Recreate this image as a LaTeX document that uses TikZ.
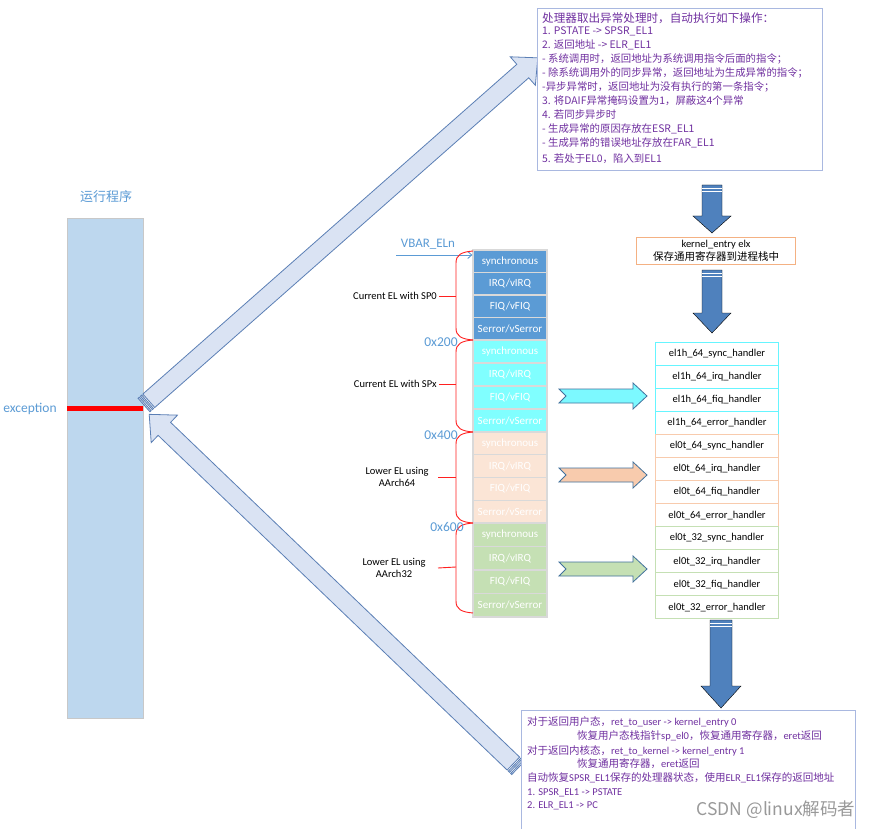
\documentclass[tikz,border=0pt]{standalone}
\usepackage{fontspec}
\setmainfont{Carlito}
\newfontfamily\zhfont{Noto Sans CJK SC}
\newfontfamily\wmfont{Noto Sans CJK SC}
\newcommand\zh[1]{{\zhfont #1}}
\newcommand\rowtext[1]{\ifcase#1 synchronous\or IRQ/vIRQ\or FIQ/vFIQ\or Serror/vSerror\fi}
\usetikzlibrary{arrows.meta}

\definecolor{progfill}{HTML}{BDD7EE}
\definecolor{progedge}{HTML}{C8C8C8}
\definecolor{labelblue}{HTML}{5B9BD5}
\definecolor{vecblue}{HTML}{5B9BD5}
\definecolor{veccyan}{HTML}{80FFFF}
\definecolor{vecpeach}{HTML}{FBE5D6}
\definecolor{vecgreen}{HTML}{C5E0B4}
\definecolor{cellline}{HTML}{D9D9D9}
\definecolor{hcyan}{HTML}{66F5FF}
\definecolor{hpeach}{HTML}{F8CBAD}
\definecolor{hgreen}{HTML}{C5E0B4}
\definecolor{arrcyan}{HTML}{7CF9FF}
\definecolor{arrpeach}{HTML}{F8CBAD}
\definecolor{arrgreen}{HTML}{C5E0B4}
\definecolor{arredge}{HTML}{41719C}
\definecolor{downblue}{HTML}{4F81BD}
\definecolor{bigfill}{HTML}{DAE3F3}
\definecolor{bigedge}{HTML}{5B7FB5}
\definecolor{notepurple}{HTML}{7030A0}
\definecolor{noteedge}{HTML}{A9B8E0}
\definecolor{kernedge}{HTML}{F4B183}
\definecolor{braced}{HTML}{FF2020}

\begin{document}
\begin{tikzpicture}[x=1pt,y=-1pt,
  txt/.style={font=\fontsize{10.5}{13}\selectfont, inner sep=0pt},
  notetxt/.style={txt, text=notepurple, anchor=base west},
  entrytxt/.style={notetxt, font=\zhfont\fontsize{10.4}{13}\selectfont},
  cell/.style={draw=cellline, line width=1.2pt, minimum width=74pt, inner sep=0pt,
    text=white, font=\fontsize{11}{13}\selectfont},
  handler/.style={draw, line width=0.9pt, fill=white, minimum width=123pt,
    minimum height=23pt, inner sep=0pt, font=\fontsize{10.5}{12}\selectfont},
  bracered/.style={draw=braced, line width=0.9pt},
  offset/.style={text=labelblue, font=\fontsize{13.5}{15}\selectfont, inner sep=0pt},
  sidelabel/.style={font=\fontsize{10.5}{12.5}\selectfont, inner sep=2pt, align=center},
  bigarrow/.style={draw=bigedge, fill=bigfill, line width=0.8pt, line join=miter},
  midarrow/.style={draw=arredge, line width=0.8pt, line join=miter},
  downarrow/.style={fill=downblue},
  notebox/.style={draw=noteedge, line width=0.9pt, fill=white, inner sep=0pt, anchor=north west}
]
\useasboundingbox (0,0) rectangle (878,829);
\fill[white] (0,0) rectangle (878,829);

% ---------- running program ----------
\node[draw=progedge, fill=progfill, line width=0.8pt, minimum width=76pt, minimum height=500pt,
      inner sep=0pt, anchor=north west] (prog) at (67,218) {};
\node[text=labelblue, font=\zhfont\fontsize{13}{15}\selectfont, inner sep=0pt] (progtitle) at (106,197) {运行程序};
\draw[red, line width=5pt] (67,408) -- (143,408);
\node[text=labelblue, font=\fontsize{13.5}{15}\selectfont, inner sep=0pt] (exc) at (30,409) {exception};

% ---------- big arrows: into and out of the exception ----------
\begin{scope}[shift={(144,405)}, rotate=41.4]
  \draw[bigarrow] (0,-9) rectangle (1.6,9);
  \draw[bigarrow] (3.2,-9) rectangle (4.8,9);
  \draw[bigarrow] (6.4,-9) -- (505,-9) -- (505,-19) -- (525,0) -- (505,19) -- (505,9) -- (6.4,9) -- cycle;
\end{scope}
\begin{scope}[shift={(518,768)}, rotate=136.2]
  \draw[bigarrow] (0,-9) rectangle (1.6,9);
  \draw[bigarrow] (3.2,-9) rectangle (4.8,9);
  \draw[bigarrow] (6.4,-9) -- (490,-9) -- (490,-19) -- (511,0) -- (490,19) -- (490,9) -- (6.4,9) -- cycle;
\end{scope}

% ---------- note: what the CPU does on entry ----------
\node[notebox, minimum width=285pt, minimum height=162pt] (entrynote) at (537,8) {};
\node[entrytxt, font=\zhfont\fontsize{11.6}{13}\selectfont] (entryline0) at (542,22.5) {处理器取出异常处理时，自动执行如下操作：};
\foreach \y/\t [count=\k] in {
  31/{1. PSTATE -> SPSR\_EL1},
  45/{2. 返回地址 -> ELR\_EL1},
  59/{- 系统调用时，返回地址为系统调用指令后面的指令；},
  73/{- 除系统调用外的同步异常，返回地址为生成异常的指令；},
  87/{-异步异常时，返回地址为没有执行的第一条指令；},
  101/{3. 将DAIF异常掩码设置为1，屏蔽这4个异常},
  115/{4. 若同步异步时},
  129/{- 生成异常的原因存放在ESR\_EL1},
  143/{- 生成异常的错误地址存放在FAR\_EL1},
  159/{5. 若处于EL0，陷入到EL1}}
  \node[entrytxt] (entryline\k) at (542,\y+4) {\t};

% ---------- down arrows ----------
\draw[downarrow] (702,185) -- (722,185) -- (722,216) -- (731,216) -- (712,233) -- (693,216) -- (702,216) -- cycle;
\draw[white, line width=0.7pt] (702,188) -- (722,188) (702,191) -- (722,191);
\draw[downarrow] (702,270) -- (722,270) -- (722,313) -- (731,313) -- (712,333) -- (693,313) -- (702,313) -- cycle;
\draw[white, line width=0.7pt] (702,273) -- (722,273) (702,276) -- (722,276);
\draw[downarrow] (710,620) -- (732,620) -- (732,686) -- (741,686) -- (721,708) -- (701,686) -- (710,686) -- cycle;
\draw[white, line width=0.7pt] (710,623) -- (732,623) (710,626) -- (732,626);

% ---------- kernel_entry box ----------
\node[draw=kernedge, line width=0.9pt, minimum width=159pt, minimum height=27pt, inner sep=0pt,
      anchor=north west] (kentry) at (636,237) {};
\node[txt] (kentry1) at (716,245) {kernel\_entry elx};
\node[txt] (kentry2) at (716,257) {\zh{保存通用寄存器到进程栈中}};

% ---------- vector table ----------
\node[text=labelblue, font=\fontsize{13}{15}\selectfont, inner sep=0pt] (vbar) at (428,244) {VBAR\_ELn};
\foreach \b/\top/\h/\col in {1/250/22.5/vecblue, 2/340/23/veccyan, 3/432/22.75/vecpeach, 4/523/23.5/vecgreen}{
  \foreach \r in {0,...,3}{
    \pgfmathsetmacro\yc{\top+\h*(\r+0.5)}
    \node[cell, fill=\col, minimum height=\h pt] (v\b\r) at (510,\yc) {\rowtext{\r}};
  }
}
\draw[labelblue, line width=0.9pt, -{Straight Barb[length=4pt,width=7pt]}] (396,255) -- (v10.west |- 0,255);

% braces grouping the four vector blocks
\foreach \b/\T/\B/\M in {1/251/340/296, 2/340/432/384, 3/432/523/477, 4/523/613/567}{
  \draw[bracered] (473,\T) .. controls (461,\T+1) and (456,\T+4) .. (456,\T+12)
     -- (456,\B-12) .. controls (456,\B-4) and (461,\B-1) .. (473,\B);
  \coordinate (brace\b) at (456,\M);
}
\node[sidelabel, anchor=east] (grp1) at (439,296) {Current EL with SP0};
\node[sidelabel, anchor=east] (grp2) at (439,384) {Current EL with SPx};
\node[sidelabel] (grp3) at (397,477) {Lower EL using\\AArch64};
\node[sidelabel] (grp4) at (394,568) {Lower EL using\\AArch32};
\draw[bracered] (grp1.east) -- (brace1);
\draw[bracered] (grp2.east) -- (brace2);
\draw[bracered] (438,477) -- (brace3);
\draw[bracered] (438,568) -- (brace4);

\node[offset] (off200) at (441,342) {0x200};
\node[offset] (off400) at (441,435) {0x400};
\node[offset] (off600) at (447,527) {0x600};

% ---------- block arrows to the handlers ----------
\foreach \yy/\col in {396/arrcyan, 475/arrpeach, 569/arrgreen}{
  \begin{scope}[shift={(559,\yy)}]
    \draw[midarrow, fill=\col] (0,-7) -- (74,-7) -- (74,-13) -- (88,0) -- (74,13) -- (74,7) -- (0,7) -- (7,0) -- cycle;
  \end{scope}
}

% ---------- handlers ----------
\foreach \i/\name/\col in {
  0/el1h\_64\_sync\_handler/hcyan, 1/el1h\_64\_irq\_handler/hcyan,
  2/el1h\_64\_fiq\_handler/hcyan, 3/el1h\_64\_error\_handler/hcyan,
  4/el0t\_64\_sync\_handler/hpeach, 5/el0t\_64\_irq\_handler/hpeach,
  6/el0t\_64\_fiq\_handler/hpeach, 7/el0t\_64\_error\_handler/hpeach,
  8/el0t\_32\_sync\_handler/hgreen, 9/el0t\_32\_irq\_handler/hgreen,
  10/el0t\_32\_fiq\_handler/hgreen, 11/el0t\_32\_error\_handler/hgreen}{
  \pgfmathsetmacro\yc{342+23.08*\i+11.54}
  \node[handler, draw=\col] (h\i) at (717,\yc) {\name};
}

% ---------- note: returning from the exception ----------
\node[notebox, minimum width=334pt, minimum height=130pt] (retnote) at (521,710) {};
\node[notetxt] (ret1) at (527,725) {\zh{对于返回用户态，}ret\_to\_user -> kernel\_entry 0};
\node[notetxt] (ret2) at (577,739) {\zh{恢复用户态栈指针}sp\_el0\zh{，恢复通用寄存器，}eret\zh{返回}};
\node[notetxt] (ret3) at (527,754) {\zh{对于返回内核态，}ret\_to\_kernel -> kernel\_entry 1};
\node[notetxt] (ret4) at (577,767) {\zh{恢复通用寄存器，}eret\zh{返回}};
\node[notetxt] (ret5) at (527,781) {\zh{自动恢复}SPSR\_EL1\zh{保存的处理器状态，使用}ELR\_EL1\zh{保存的返回地址}};
\node[notetxt] (ret6) at (527,795) {1. SPSR\_EL1 -> PSTATE};
\node[notetxt] (ret7) at (527,808) {2. ELR\_EL1 -> PC};

\node[text=black!40, font=\wmfont\fontsize{17.5}{19}\selectfont, inner sep=0pt] (wm) at (776,810) {CSDN @linux解码者};
\end{tikzpicture}
\end{document}
